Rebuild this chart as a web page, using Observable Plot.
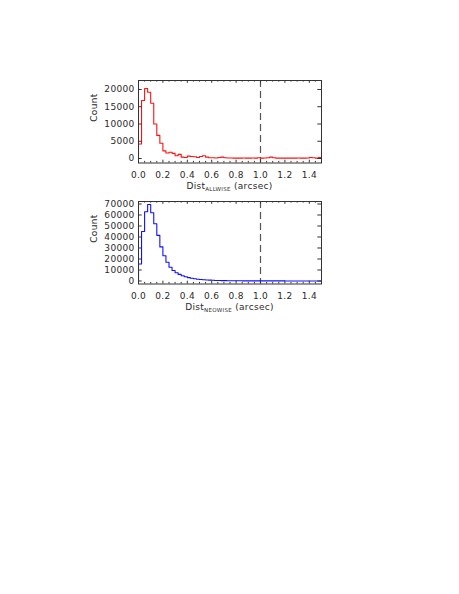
<!DOCTYPE html>
<html><head><meta charset="utf-8">
<script src="https://cdn.jsdelivr.net/npm/d3@7"></script>
<script src="https://cdn.jsdelivr.net/npm/@observablehq/plot@0.6"></script>
<style>
html,body{margin:0;padding:0;background:#fff;}
#page{position:relative;width:459px;height:594px;background:#fff;overflow:hidden;}
#page svg{position:absolute;left:0;}
</style></head><body><div id="page"></div>
<script>
// histogram bin width (arcsec) and counts per bin, starting at 0
const binWidth = 0.025;
const allwiseCounts = [
  4200, 16800, 20300, 19200, 16000, 10000, 6700, 4400, 2200, 1600,
  1800, 1500, 800, 1200, 400, 300, 700, 600, 500, 300,
  600, 800, 400, 200, 200, 150, 300, 400, 200, 150,
  150, 100, 100, 100, 150, 100, 100, 150, 100, 200,
  100, 150, 200, 400, 200, 100, 100, 100, 100, 100,
  100, 100, 150, 100, 100, 150, 300, 200, 100, 300
];
const neowiseCounts = [
  15500, 45000, 63000, 69500, 62000, 52000, 41500, 31000, 23000, 17000,
  12500, 9500, 7500, 6000, 4800, 3900, 3100, 2500, 2000, 1600,
  1300, 1100, 900, 750, 620, 520, 450, 380, 320, 280,
  240, 210, 190, 170, 150, 140, 130, 120, 110, 100,
  95, 90, 85, 80, 80, 75, 70, 70, 65, 65,
  60, 60, 55, 55, 50, 50, 50, 45, 45, 45
];
const xTicks = [0.0, 0.2, 0.4, 0.6, 0.8, 1.0, 1.2, 1.4];
const xMinorTicks = [0.05, 0.1, 0.15, 0.25, 0.3, 0.35, 0.45, 0.5, 0.55, 0.65, 0.7, 0.75,
  0.85, 0.9, 0.95, 1.05, 1.1, 1.15, 1.25, 1.3, 1.35, 1.45];
const allwiseYTicks = [0, 5000, 10000, 15000, 20000];
const neowiseYTicks = [0, 10000, 20000, 30000, 40000, 50000, 60000, 70000];
const matchRadius = [1.0];
const xDomain = [0, 1.5];

const page = document.getElementById("page");

function panel({counts, color, yDomain, yTicks, sub, top}) {
  const W = 459, H = 140, mt = 20, mb = 37.5, ml = 138, mr = 138;
  const ph = H - mt - mb, pw = W - ml - mr;
  const axisColor = "#333";
  const textColor = "#2a2a2a";
  const pts = [{x: 0, y: 0}]
    .concat(counts.map((c, i) => ({x: i * binWidth, y: c})))
    .concat([{x: xDomain[1], y: counts[counts.length - 1]}]);
  const svg = Plot.plot({
    width: W, height: H,
    marginTop: mt, marginBottom: mb, marginLeft: ml, marginRight: mr,
    style: {fontFamily: "DejaVu Sans", fontSize: "9px", color: textColor, background: "transparent", letterSpacing: "0.3px"},
    x: {domain: xDomain, axis: null},
    y: {domain: yDomain, axis: null},
    marks: [
      Plot.ruleX(matchRadius, {x: d => d, stroke: "#555", strokeDasharray: "7,4", strokeWidth: 1.2}),
      Plot.line(pts, {x: "x", y: "y", curve: "step-after", stroke: color, strokeWidth: 1.1, clip: true}),
      Plot.tickX(xTicks, {x: d => d, insetTop: ph - 2.8, stroke: axisColor}),
      Plot.tickX(xTicks, {x: d => d, insetBottom: ph - 2.8, stroke: axisColor}),
      Plot.tickX(xMinorTicks, {x: d => d, insetTop: ph - 1.6, stroke: axisColor}),
      Plot.tickX(xMinorTicks, {x: d => d, insetBottom: ph - 1.6, stroke: axisColor}),
      Plot.tickY(yTicks, {y: d => d, insetRight: pw - 3.7, stroke: axisColor}),
      Plot.tickY(yTicks, {y: d => d, insetLeft: pw - 3.7, stroke: axisColor}),
      Plot.axisX(xTicks, {tickSize: 0, tickPadding: 9, label: null, tickFormat: d3.format(".1f"), fill: textColor}),
      Plot.axisY(yTicks, {tickSize: 0, tickPadding: 4, label: null, tickFormat: d => String(d), fill: textColor}),
      Plot.text(["Count"], {text: d => d, frameAnchor: "left", dx: -44, rotate: -90, fill: textColor}),
      Plot.frame({stroke: axisColor})
    ]
  });
  const t = d3.select(svg).append("text")
    .attr("x", ml + pw / 2).attr("y", mt + ph + 26.5)
    .attr("text-anchor", "middle").attr("font-size", 9).attr("fill", textColor)
    .attr("font-family", "DejaVu Sans");
  t.append("tspan").text("Dist");
  t.append("tspan").attr("font-size", 5.5).attr("dy", 2).text(sub);
  t.append("tspan").attr("dy", -2).text(" (arcsec)");
  svg.style.top = top + "px";
  page.appendChild(svg);
}

panel({counts: allwiseCounts, color: "#ff1010", yDomain: [-1300, 22600], yTicks: allwiseYTicks, sub: "ALLWISE", top: 60});
panel({counts: neowiseCounts, color: "#1010ff", yDomain: [-2730, 72270], yTicks: neowiseYTicks, sub: "NEOWISE", top: 181});
</script></body></html>
